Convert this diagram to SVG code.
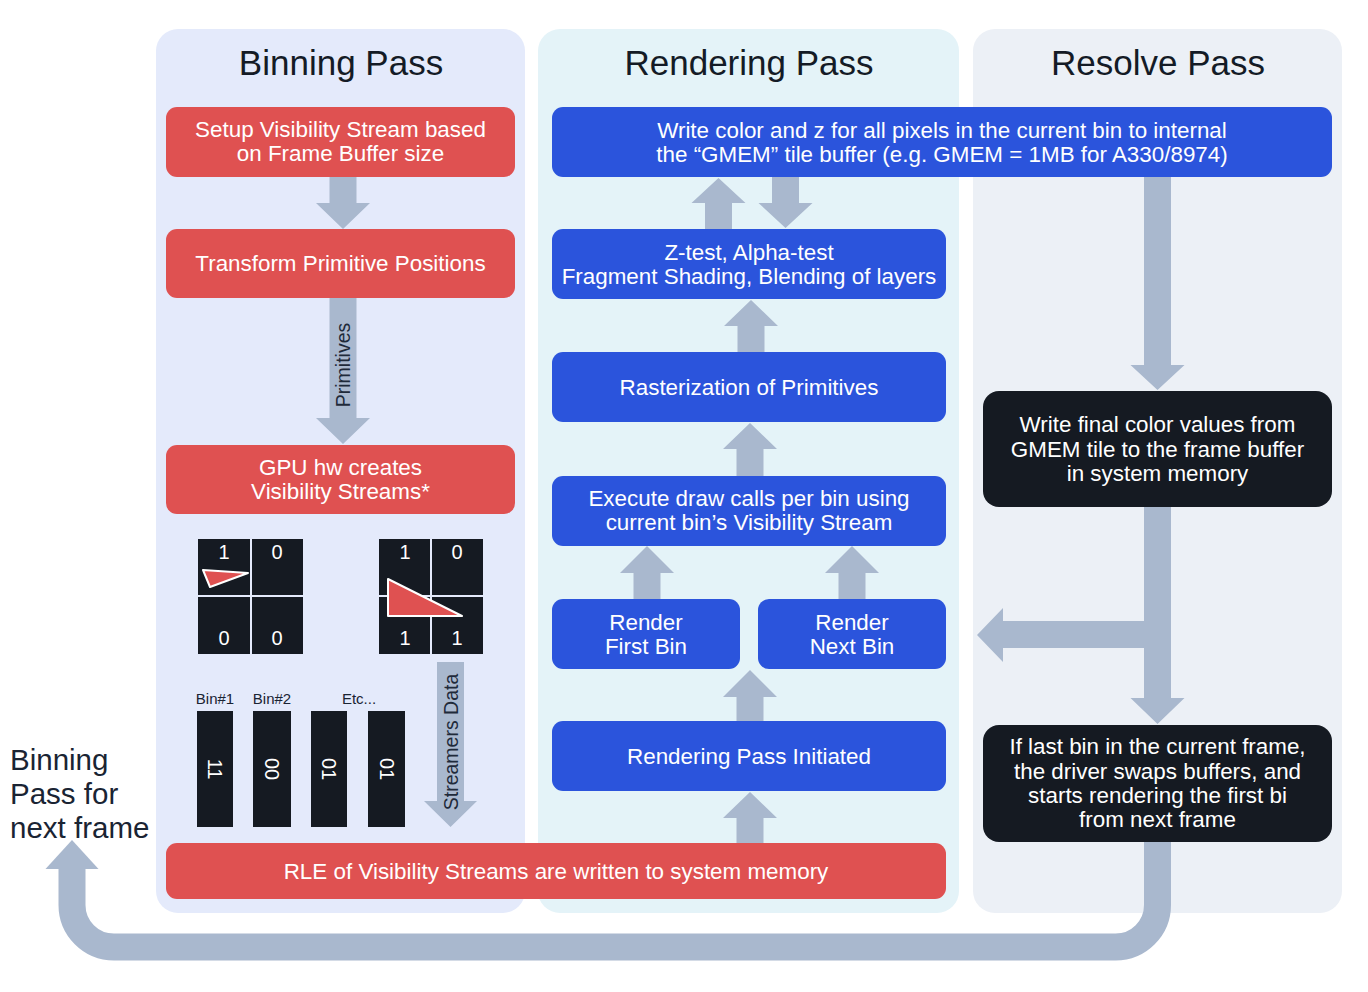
<svg xmlns="http://www.w3.org/2000/svg" width="1368" height="992" viewBox="0 0 1368 992">
<style>
text{font-family:"Liberation Sans",Arial,sans-serif;}
.title{font-size:35px;fill:#141B26;text-anchor:middle;}
.bt{font-size:22.4px;fill:#FFFFFF;text-anchor:middle;}
.red{fill:#DF5151;}
.blue{fill:#2B54DC;}
.dark{fill:#151A22;}
.arr{fill:#A9B8CE;}
.cell{fill:#151A22;}
.num{font-size:20px;fill:#FFFFFF;text-anchor:middle;}
.lbl{font-size:15px;fill:#1A2433;text-anchor:middle;}
.vl{font-size:19.5px;fill:#1F2A3A;text-anchor:middle;dominant-baseline:central;}
.tri{fill:#DF5151;stroke:#FFFFFF;stroke-width:2;stroke-linejoin:round;}
</style>
<rect width="1368" height="992" fill="#FFFFFF"/>

<g id="panel-binning">
<rect x="156" y="29" width="369" height="884" rx="22" fill="#E4EAFB"/>
<text class="title" x="341" y="75">Binning Pass</text>
</g>
<g id="panel-rendering">
<rect x="538" y="29" width="421" height="884" rx="22" fill="#E4F3F8"/>
<text class="title" x="749" y="75">Rendering Pass</text>
</g>
<g id="panel-resolve">
<rect x="973" y="29" width="369" height="884" rx="22" fill="#ECF0F6"/>
<text class="title" x="1158" y="75">Resolve Pass</text>
</g>

<g id="connectors">
<polygon class="arr" points="329.5,177 356.5,177 356.5,203 370,203 343,229 316,203 329.5,203"/>
<polygon class="arr" points="329.5,298 356.5,298 356.5,418 370,418 343,444 316,418 329.5,418"/>
<text class="vl" transform="translate(343,365) rotate(-90)">Primitives</text>
<polygon class="arr" points="437,662 464,662 464,801 477,801 450.5,827 424,801 437,801"/>
<text class="vl" transform="translate(451,742) rotate(-90)">Streamers Data</text>

<polygon class="arr" points="718.5,178 745.5,203 732,203 732,229 705,229 705,203 691.5,203"/>
<polygon class="arr" points="772,177 799,177 799,203 812.5,203 785.5,228 758.5,203 772,203"/>
<polygon class="arr" points="751,300 778,326 764.5,326 764.5,352 737.5,352 737.5,326 724,326"/>
<polygon class="arr" points="750,423 777,449 763.5,449 763.5,476 736.5,476 736.5,449 723,449"/>
<polygon class="arr" points="647,546 674,573 660.5,573 660.5,599 633.5,599 633.5,573 620,573"/>
<polygon class="arr" points="852,546 879,573 865.5,573 865.5,599 838.5,599 838.5,573 825,573"/>
<polygon class="arr" points="750,670 777,697 763.5,697 763.5,721 736.5,721 736.5,697 723,697"/>
<polygon class="arr" points="750,792 777,818 763.5,818 763.5,843 736.5,843 736.5,818 723,818"/>

<polygon class="arr" points="1144,177 1171,177 1171,365 1184.5,365 1157.5,390 1130.5,365 1144,365"/>
<polygon class="arr" points="1144,507 1171,507 1171,698 1184.5,698 1157.5,724 1130.5,698 1144,698"/>
<polygon class="arr" points="1144,621 1144,648 1003,648 1003,662 977,635 1003,608 1003,621"/>

<path d="M1157.5,842 V905 A42,42 0 0 1 1115.5,947 H114 A42,42 0 0 1 72,905 V867" fill="none" stroke="#A9B8CE" stroke-width="27"/>
<polygon class="arr" points="45.5,869 98.5,869 72,840"/>
</g>

<g id="setup-visibility">
<rect class="red" x="166" y="107" width="349" height="70" rx="11"/>
<text class="bt" x="340.5" y="137">Setup Visibility Stream based</text>
<text class="bt" x="340.5" y="161">on Frame Buffer size</text>
</g>
<g id="transform-positions">
<rect class="red" x="166" y="229" width="349" height="69" rx="11"/>
<text class="bt" x="340.5" y="271">Transform Primitive Positions</text>
</g>
<g id="gpu-creates">
<rect class="red" x="166" y="445" width="349" height="69" rx="11"/>
<text class="bt" x="340.5" y="475">GPU hw creates</text>
<text class="bt" x="340.5" y="499">Visibility Streams*</text>
</g>

<g id="grid-1">
<rect class="cell" x="198" y="539" width="52" height="56"/>
<rect class="cell" x="252" y="539" width="51" height="56"/>
<rect class="cell" x="198" y="597" width="52" height="57"/>
<rect class="cell" x="252" y="597" width="51" height="57"/>
<text class="num" x="224" y="559">1</text>
<text class="num" x="277" y="559">0</text>
<text class="num" x="224" y="645">0</text>
<text class="num" x="277" y="645">0</text>
<polygon class="tri" points="203,570 248,573 210,587"/>
</g>
<g id="grid-2">
<rect class="cell" x="379" y="539" width="51" height="56"/>
<rect class="cell" x="432" y="539" width="51" height="56"/>
<rect class="cell" x="379" y="597" width="51" height="57"/>
<rect class="cell" x="432" y="597" width="51" height="57"/>
<text class="num" x="405" y="559">1</text>
<text class="num" x="457" y="559">0</text>
<text class="num" x="405" y="645">1</text>
<text class="num" x="457" y="645">1</text>
<polygon class="tri" points="388,579 462,616 388,616"/>
</g>

<g id="bins">
<text class="lbl" x="215" y="704">Bin#1</text>
<text class="lbl" x="272" y="704">Bin#2</text>
<text class="lbl" x="359" y="704">Etc...</text>
<rect class="cell" x="197" y="711" width="36" height="116"/>
<rect class="cell" x="253" y="711" width="38" height="116"/>
<rect class="cell" x="311" y="711" width="36" height="116"/>
<rect class="cell" x="368" y="711" width="37" height="116"/>
<text class="num" dominant-baseline="central" transform="translate(215,769) rotate(90)">11</text>
<text class="num" dominant-baseline="central" transform="translate(272,769) rotate(90)">00</text>
<text class="num" dominant-baseline="central" transform="translate(329,769) rotate(90)">01</text>
<text class="num" dominant-baseline="central" transform="translate(386.5,769) rotate(90)">01</text>
</g>

<g id="rle-written">
<rect class="red" x="166" y="843" width="780" height="56" rx="11"/>
<text class="bt" x="556" y="879">RLE of Visibility Streams are written to system memory</text>
</g>

<g id="write-color">
<rect class="blue" x="552" y="107" width="780" height="70" rx="11"/>
<text class="bt" x="942" y="138">Write color and z for all pixels in the current bin to internal</text>
<text class="bt" x="942" y="162">the “GMEM” tile buffer (e.g. GMEM = 1MB for A330/8974)</text>
</g>
<g id="z-test">
<rect class="blue" x="552" y="229" width="394" height="70" rx="11"/>
<text class="bt" x="749" y="260">Z-test, Alpha-test</text>
<text class="bt" x="749" y="284">Fragment Shading, Blending of layers</text>
</g>
<g id="rasterization">
<rect class="blue" x="552" y="352" width="394" height="70" rx="11"/>
<text class="bt" x="749" y="395">Rasterization of Primitives</text>
</g>
<g id="execute-draw">
<rect class="blue" x="552" y="476" width="394" height="70" rx="11"/>
<text class="bt" x="749" y="506">Execute draw calls per bin using</text>
<text class="bt" x="749" y="530">current bin’s Visibility Stream</text>
</g>
<g id="render-first">
<rect class="blue" x="552" y="599" width="188" height="70" rx="11"/>
<text class="bt" x="646" y="630">Render</text>
<text class="bt" x="646" y="654">First Bin</text>
</g>
<g id="render-next">
<rect class="blue" x="758" y="599" width="188" height="70" rx="11"/>
<text class="bt" x="852" y="630">Render</text>
<text class="bt" x="852" y="654">Next Bin</text>
</g>
<g id="rendering-initiated">
<rect class="blue" x="552" y="721" width="394" height="70" rx="11"/>
<text class="bt" x="749" y="764">Rendering Pass Initiated</text>
</g>

<g id="write-final">
<rect class="dark" x="983" y="391" width="349" height="116" rx="16"/>
<text class="bt" x="1157.5" y="432">Write final color values from</text>
<text class="bt" x="1157.5" y="457">GMEM tile to the frame buffer</text>
<text class="bt" x="1157.5" y="481">in system memory</text>
</g>
<g id="last-bin">
<rect class="dark" x="983" y="725" width="349" height="117" rx="16"/>
<text class="bt" x="1157.5" y="754">If last bin in the current frame,</text>
<text class="bt" x="1157.5" y="779">the driver swaps buffers, and</text>
<text class="bt" x="1157.5" y="803">starts rendering the first bi</text>
<text class="bt" x="1157.5" y="827">from next frame</text>
</g>

<g id="next-frame-label">
<text x="10" y="770" font-size="29.5" fill="#1A2433">Binning</text>
<text x="10" y="804" font-size="29.5" fill="#1A2433">Pass for</text>
<text x="10" y="838" font-size="29.5" fill="#1A2433">next frame</text>
</g>
</svg>
